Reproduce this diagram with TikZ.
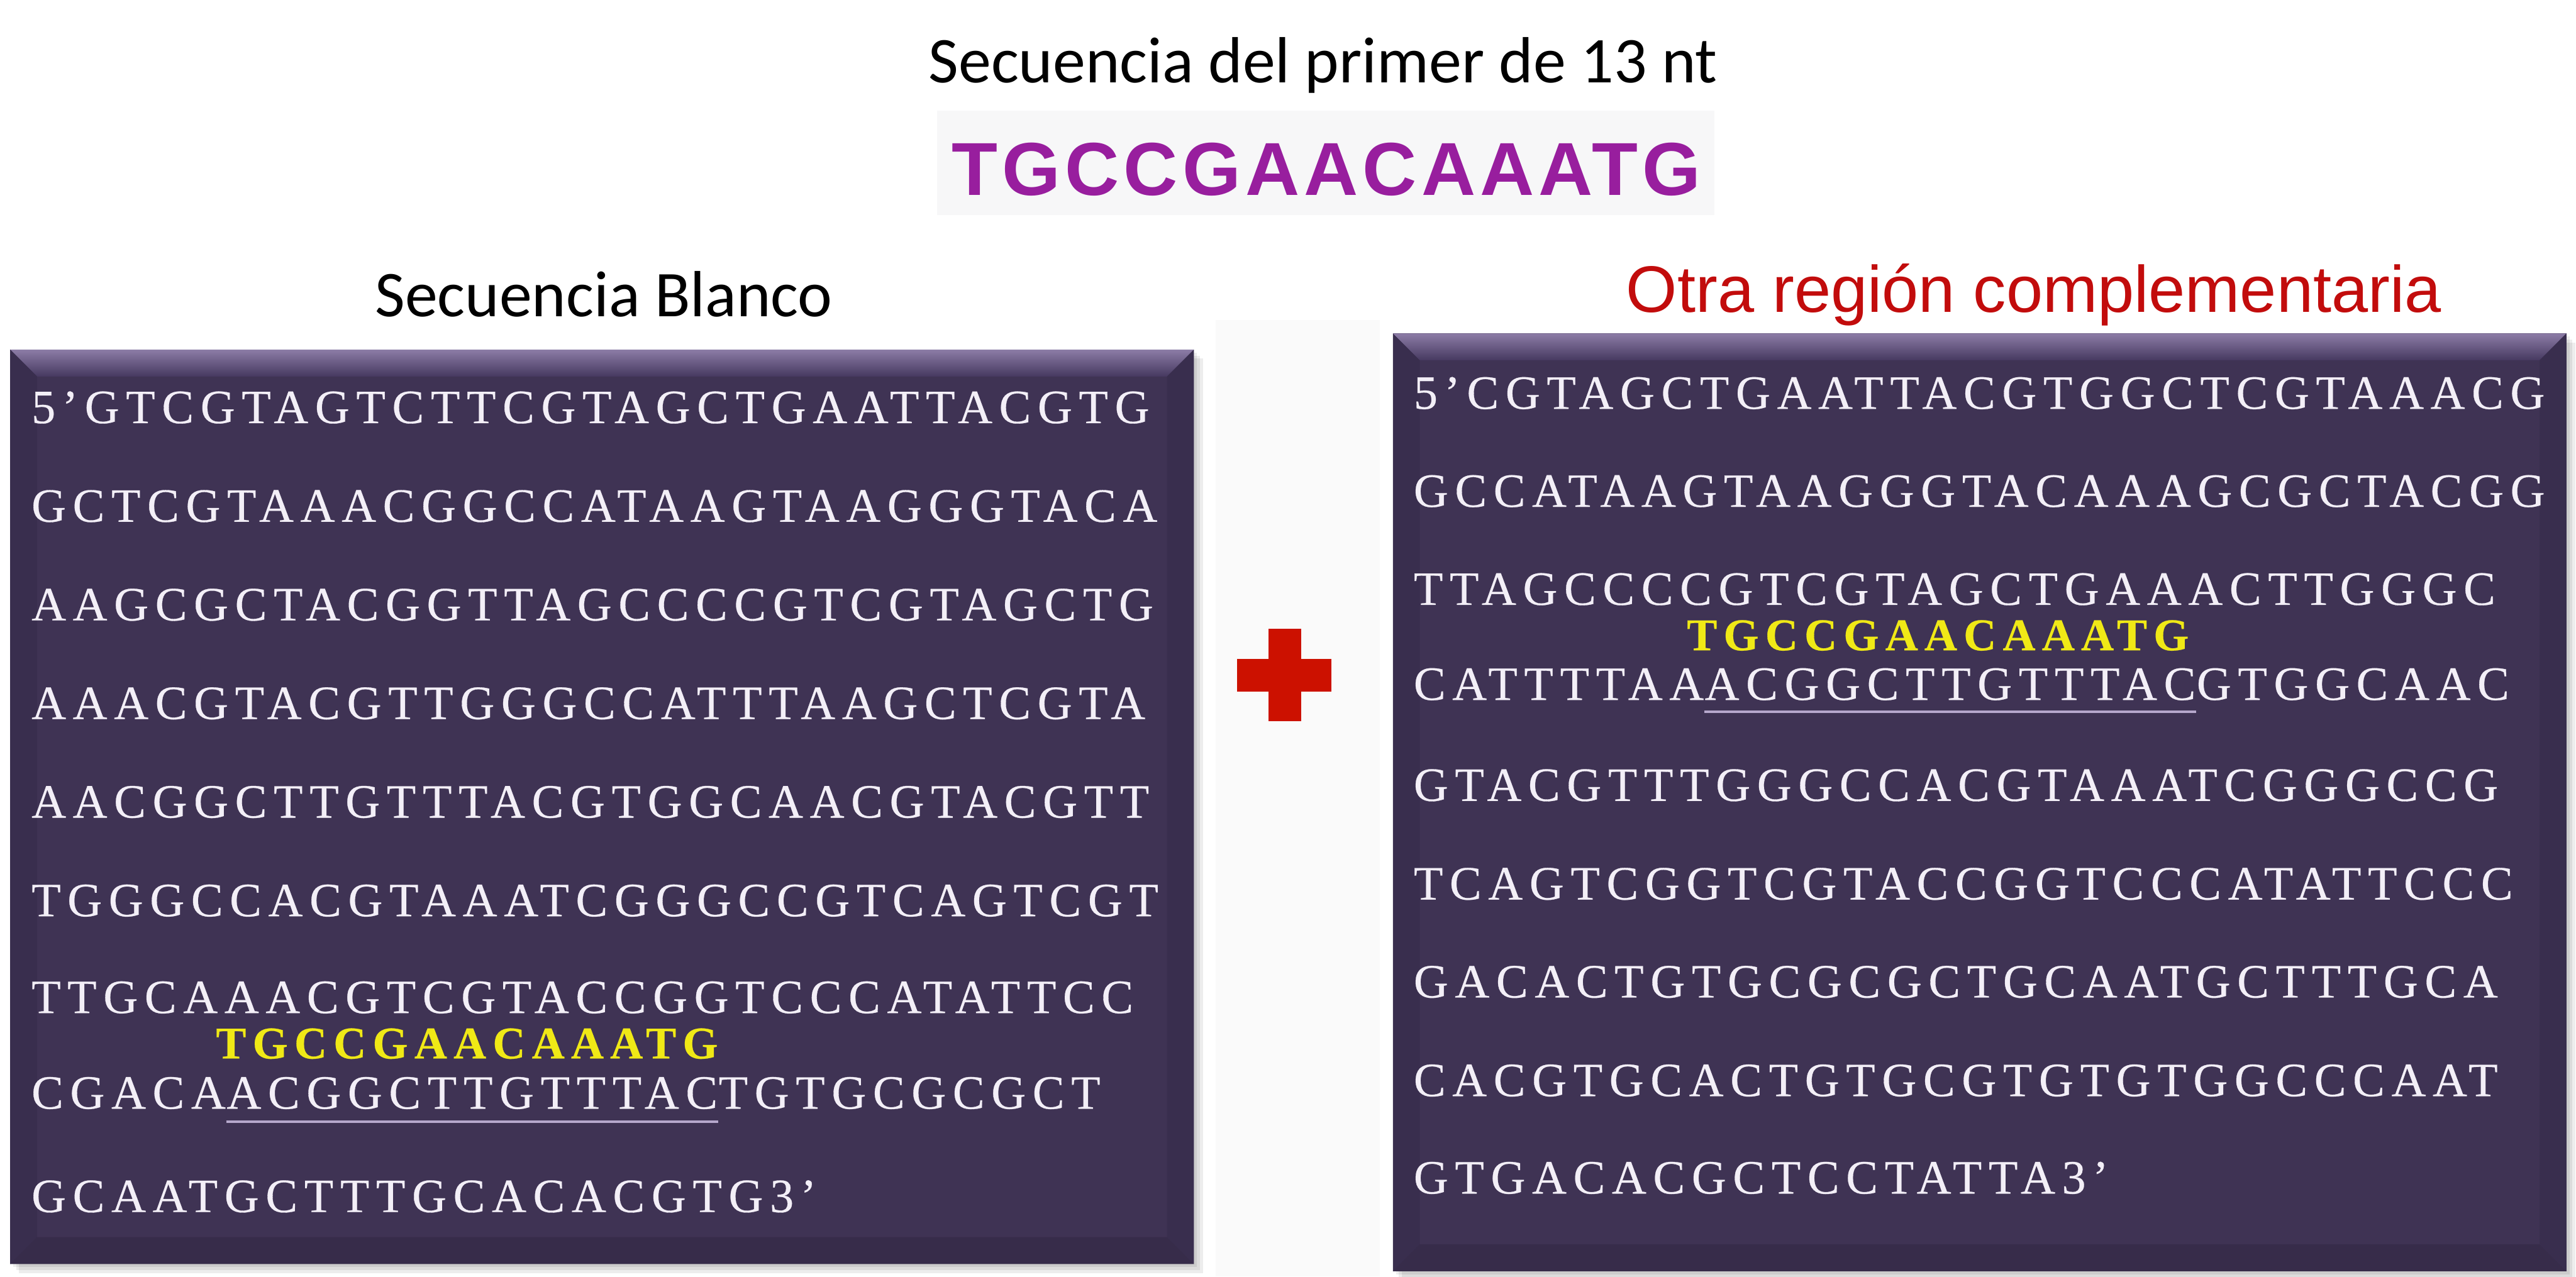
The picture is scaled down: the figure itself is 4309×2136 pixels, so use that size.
\documentclass[tikz,border=0pt]{standalone}
\usepackage{fontspec}
\usepackage{tikz}
\usetikzlibrary{positioning,calc}
\usepackage{xcolor}
\setmainfont{Liberation Serif}
\newfontfamily\calibrifont{Carlito}
\newfontfamily\arialfont{Liberation Sans}
\newfontfamily\seqfont[LetterSpace=14,FakeBold=0.4]{Liberation Serif}
\newfontfamily\primerfont[LetterSpace=6]{Liberation Sans}

\definecolor{boxfill}{RGB}{63,51,84}
\definecolor{bevtop}{RGB}{140,124,166}
\definecolor{bevmid}{RGB}{70,57,96}
\definecolor{bevside}{RGB}{57,46,78}
\definecolor{bevbot}{RGB}{55,44,74}
\definecolor{seqwhite}{RGB}{243,239,247}
\definecolor{seqyellow}{RGB}{240,233,22}
\definecolor{ullav}{RGB}{182,168,204}
\definecolor{primerpurple}{RGB}{152,30,158}
\definecolor{primerbg}{RGB}{247,247,248}
\definecolor{plusred}{RGB}{204,17,0}
\definecolor{otrared}{RGB}{194,12,12}

\begin{document}
\begin{tikzpicture}[x=0.25pt, y=-0.25pt,
    seq/.style={anchor=base west, inner sep=0pt, text=seqwhite,
        font=\seqfont\fontsize{20}{22}\selectfont},
    seqprimer/.style={seq, text=seqyellow,
        font=\seqfont\bfseries\fontsize{19}{21}\selectfont},
    ulline/.style={draw=ullav, line width=1pt},
    heading/.style={anchor=base, inner sep=0pt,
        font=\calibrifont\fontsize{27.3}{30}\selectfont}]
    \useasboundingbox (0,0) rectangle (4309,2136);

    % Titles
    \node[heading] (title) at (2213,138) {Secuencia del primer de 13 nt};
    \fill[primerbg] (1567,185) rectangle (2868,360);
    \node[anchor=base west, inner sep=0pt, text=primerpurple,
        font=\primerfont\bfseries\fontsize{31.4}{34}\selectfont] (primer) at (1591,327) {TGCCGAACAAATG};
    \node[heading] (blanco) at (1010,530) {Secuencia Blanco};
    \node[anchor=base, inner sep=0pt, text=otrared,
        font=\arialfont\fontsize{27.5}{30}\selectfont] (otra) at (3402,522) {Otra región complementaria};

    % Faint panel behind the plus
    \fill[gray!4] (2033,536) rectangle (2308,2136);

    % Bevelled boxes
    \foreach \xa/\ya/\xb/\yb in {17/585/1997/2115, 2330/558/4293/2127} {
        \foreach \d in {5,10,15}
            \fill[black, opacity=0.07] (\xa+\d,\ya+\d) rectangle (\xb+\d,\yb+\d);
        \fill[boxfill] (\xa,\ya) rectangle (\xb,\yb);
        \shade[top color=bevtop, bottom color=bevmid]
            (\xa,\ya) -- (\xb,\ya) -- (\xb-45,\ya+45) -- (\xa+45,\ya+45) -- cycle;
        \fill[bevside] (\xa,\ya) -- (\xa+45,\ya+45) -- (\xa+45,\yb-45) -- (\xa,\yb) -- cycle;
        \fill[bevside] (\xb,\ya) -- (\xb-45,\ya+45) -- (\xb-45,\yb-45) -- (\xb,\yb) -- cycle;
        \fill[bevbot] (\xa,\yb) -- (\xa+45,\yb-45) -- (\xb-45,\yb-45) -- (\xb,\yb) -- cycle;
    }

    % Target sequence
    \foreach \y/\s [count=\i] in {708/5’GTCGTAGTCTTCGTAGCTGAATTACGTG,
        873/GCTCGTAAACGGCCATAAGTAAGGGTACA, 1038/AAGCGCTACGGTTAGCCCCGTCGTAGCTG,
        1203/AAACGTACGTTGGGCCATTTAAGCTCGTA, 1368/AACGGCTTGTTTACGTGGCAACGTACGTT,
        1533/TGGGCCACGTAAATCGGGCCGTCAGTCGT, 1695/TTGCAAACGTCGTACCGGTCCCATATTCC,
        2028/GCAATGCTTTGCACACGTG3’}
        \node[seq] (left\i) at (52,\y) {\s};
    \node[seq] (leftpre) at (52,1855) {CGACA};
    \node[seq] (leftul) at (leftpre.base east) {ACGGCTTGTTTAC};
    \node[seq] (leftpost) at (leftul.base east) {TGTGCGCGCT};
    \draw[ulline] ($(leftul.base west)+(0,22)$) -- ($(leftul.base east)+(0,22)$);
    \node[seqprimer] (leftprimer) at ($(leftul.base west)+(-18,-84)$) {TGCCGAACAAATG};

    % Plus sign
    \fill[plusred] (2069,1102) rectangle (2227,1157);
    \fill[plusred] (2122,1052) rectangle (2177,1207);

    % Other complementary region
    \foreach \y/\s [count=\i] in {684/5’CGTAGCTGAATTACGTGGCTCGTAAACG,
        848/GCCATAAGTAAGGGTACAAAGCGCTACGG, 1012/TTAGCCCCGTCGTAGCTGAAACTTGGGC,
        1340/GTACGTTTGGGCCACGTAAATCGGGCCG, 1505/TCAGTCGGTCGTACCGGTCCCATATTCCC,
        1669/GACACTGTGCGCGCTGCAATGCTTTGCA, 1834/CACGTGCACTGTGCGTGTGTGGCCCAAT,
        1997/GTGACACGCTCCTATTA3’}
        \node[seq] (right\i) at (2364,\y) {\s};
    \node[seq] (rightpre) at (2364,1171) {CATTTTAA};
    \node[seq] (rightul) at (rightpre.base east) {ACGGCTTGTTTAC};
    \node[seq] (rightpost) at (rightul.base east) {GTGGCAAC};
    \draw[ulline] ($(rightul.base west)+(0,20)$) -- ($(rightul.base east)+(0,20)$);
    \node[seqprimer] (rightprimer) at ($(rightul.base west)+(-30,-83)$) {TGCCGAACAAATG};
\end{tikzpicture}
\end{document}
